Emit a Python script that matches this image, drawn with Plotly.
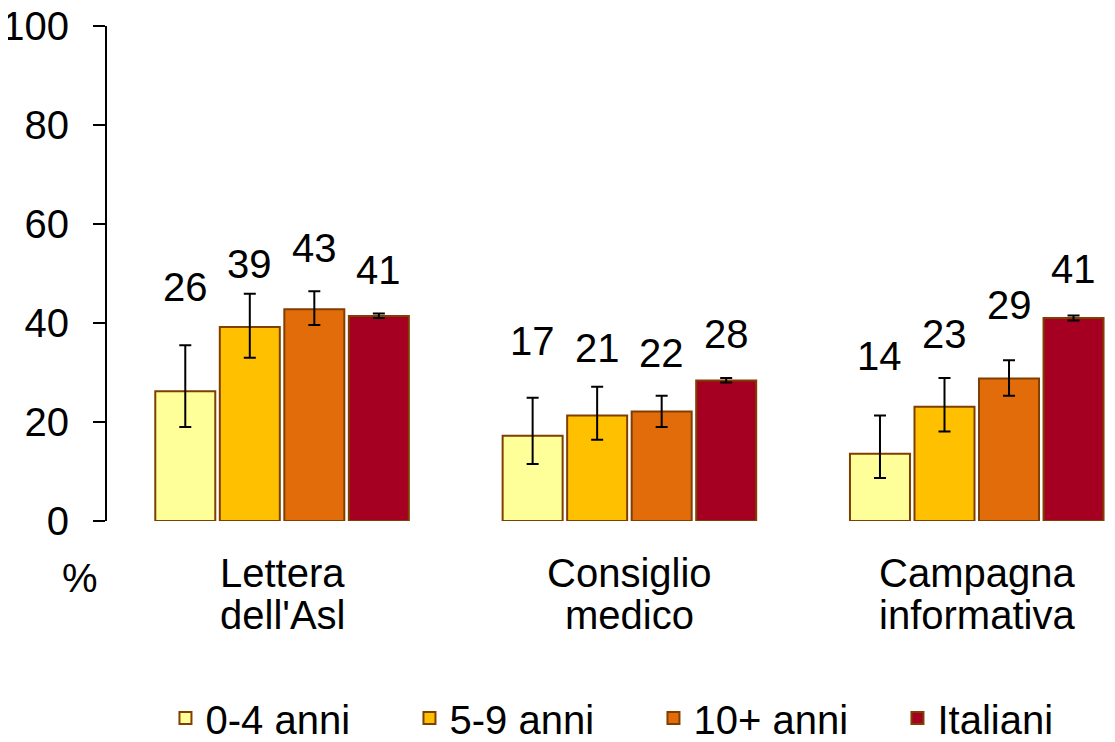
import plotly.graph_objects as go

categories = ["Lettera<br>dell'Asl", "Consiglio<br>medico", "Campagna<br>informativa"]
series = ["0-4 anni", "5-9 anni", "10+ anni", "Italiani"]
values = [
    [26.2, 17.2, 13.6],
    [39.2, 21.3, 23.1],
    [42.8, 22.1, 28.8],
    [41.4, 28.4, 41.0],
]
err_hi = [
    [35.5, 24.9, 21.3],
    [45.9, 27.1, 28.9],
    [46.4, 25.3, 32.5],
    [41.9, 28.9, 41.5],
]
err_lo = [
    [19.0, 11.5, 8.7],
    [33.0, 16.4, 18.1],
    [39.6, 19.0, 25.3],
    [41.0, 28.0, 40.5],
]
labels = [
    ["26", "17", "14"],
    ["39", "21", "23"],
    ["43", "22", "29"],
    ["41", "28", "41"],
]
# heights (in %) where the value labels sit
label_y = [
    [47.2, 36.3, 33.4],
    [51.9, 35.0, 37.7],
    [55.1, 34.0, 43.6],
    [50.8, 37.7, 50.9],
]
colors = ["#FFFF99", "#FFC000", "#E36C0A", "#A50021"]

bargap = 0.257
font = "Liberation Sans, Arial, sans-serif"
fsize = 40

# page body has an 8px margin, so the figure is 8px smaller than the window
W, H = 1107, 734
ml, mt, mb = 99, 18, 221
plot_h = H - mt - mb

fig = go.Figure()
for i, name in enumerate(series):
    fig.add_trace(go.Bar(
        x=categories,
        y=values[i],
        name=name,
        marker=dict(color=colors[i], line=dict(color="#7F3F00", width=2)),
        error_y=dict(
            type="data",
            symmetric=False,
            array=[h - v for h, v in zip(err_hi[i], values[i])],
            arrayminus=[v - l for l, v in zip(err_lo[i], values[i])],
            color="black",
            thickness=2,
            width=6,
        ),
    ))

slot = (1 - bargap) / len(series)
for i in range(len(series)):
    for j in range(len(categories)):
        fig.add_annotation(
            x=j + (i - 1.5) * slot, y=label_y[i][j],
            text=labels[i][j], showarrow=False, yanchor="middle",
            font=dict(size=fsize, color="black", family=font),
        )

# category labels, one annotation per line to get the tight line spacing
for j, cat in enumerate(categories):
    for k, line in enumerate(cat.split("<br>")):
        fig.add_annotation(
            x=j, y=-(52 + 42 * k) / plot_h, xref="x", yref="paper",
            yanchor="middle", text=line, showarrow=False,
            font=dict(size=fsize, color="black", family=font),
        )

fig.add_annotation(
    x=-0.047, y=-57 / plot_h, xref="paper", yref="paper", yanchor="middle",
    text="%", showarrow=False, font=dict(size=fsize, color="black", family=font),
)

fig.update_layout(
    width=W, height=H,
    margin=dict(l=ml, r=0, t=mt, b=mb, autoexpand=False),
    plot_bgcolor="white", paper_bgcolor="white",
    barmode="group", bargap=bargap, bargroupgap=0.07,
    font=dict(family=font, size=fsize, color="black"),
    showlegend=True,
    legend=dict(
        orientation="h", x=0.058, xanchor="left", y=-197 / plot_h, yanchor="middle",
        font=dict(size=fsize), entrywidth=199,
    ),
    xaxis=dict(
        range=[-0.504, 2.398], showline=False, ticks="", showticklabels=False,
        showgrid=False, automargin=False,
    ),
    yaxis=dict(
        range=[0, 100], dtick=20, showline=True, linecolor="black", linewidth=2,
        ticks="outside", ticklen=12, tickwidth=2, tickcolor="black",
        showgrid=False, zeroline=False, ticklabelstandoff=16, automargin=False,
        ticklabeloverflow="allow",
    ),
)

fig.write_html("out.html")
